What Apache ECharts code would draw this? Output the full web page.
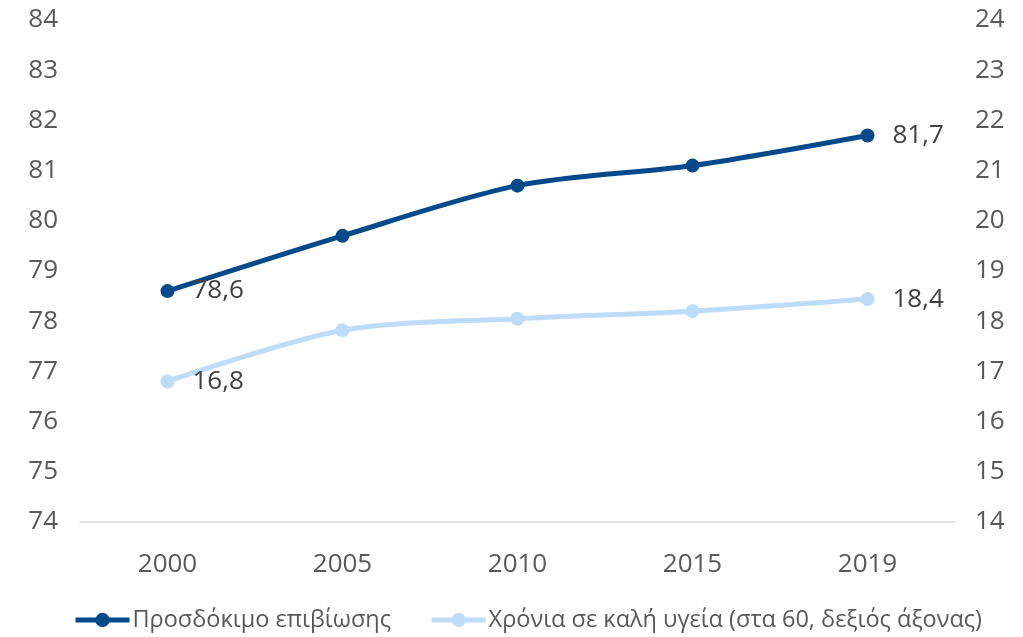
<!DOCTYPE html>
<html>
<head>
<meta charset="utf-8">
<script src="https://cdn.jsdelivr.net/npm/echarts@6/dist/echarts.min.js"></script>
<style>
  html, body { margin: 0; padding: 0; background: #fff; }
  #chart { width: 1023px; height: 637px; }
</style>
</head>
<body>
<div id="chart"></div>
<script>
var years = ['2000', '2005', '2010', '2015', '2019'];
var lifeExp = [78.6, 79.7, 80.7, 81.1, 81.7];
var healthyYears = [16.8, 17.82, 18.05, 18.2, 18.44];
var healthyLabels = ['16,8', '', '', '', '18,4'];
var lifeLabels = ['78,6', '', '', '', '81,7'];

var seriesNames = ['Προσδόκιμο επιβίωσης', 'Χρόνια σε καλή υγεία (στα 60, δεξιός άξονας)'];
var txt = '#595959';
var font = '"Open Sans", sans-serif';

// build data items, only first and last points carry a label
function withLabels(vals, labels) {
    return vals.map(function (v, i) {
        return {
            value: v,
            label: { show: labels[i] !== '', formatter: labels[i] }
        };
    });
}

var myChart = echarts.init(document.getElementById('chart'));
var option = {
    animation: false,
    textStyle: { fontFamily: font },
    grid: { left: 80, right: 68, top: 20, bottom: 115 },
    legend: {
        bottom: 0,
        left: 68,
        itemWidth: 54,
        itemHeight: 18,
        itemGap: 38,
        lineStyle: { width: 5 },
        textStyle: { color: txt, fontSize: 23.5, fontFamily: font, padding: [0, 0, 0, -2] },
        data: seriesNames
    },
    xAxis: {
        type: 'category',
        data: years,
        boundaryGap: true,
        axisLine: { lineStyle: { color: '#d9d9d9', width: 1.5 } },
        axisTick: { show: false },
        axisLabel: { color: txt, fontSize: 26, margin: 30 }
    },
    yAxis: [{
        type: 'value',
        min: 74, max: 84, interval: 1,
        splitLine: { show: false },
        axisLine: { show: false },
        axisLabel: { color: txt, fontSize: 26, margin: 22 }
    }, {
        type: 'value',
        min: 14, max: 24, interval: 1,
        splitLine: { show: false },
        axisLine: { show: false },
        axisLabel: { color: txt, fontSize: 26, margin: 20 }
    }],
    series: [{
        name: seriesNames[0],
        type: 'line',
        yAxisIndex: 0,
        smooth: 0.3,
        symbol: 'circle',
        symbolSize: 14,
        data: withLabels(lifeExp, lifeLabels),
        lineStyle: { color: '#044a8b', width: 5 },
        itemStyle: { color: '#044a8b' },
        label: { position: 'right', distance: 18, color: '#404040', fontSize: 26 }
    }, {
        name: seriesNames[1],
        type: 'line',
        yAxisIndex: 1,
        smooth: 0.3,
        symbol: 'circle',
        symbolSize: 14,
        data: withLabels(healthyYears, healthyLabels),
        lineStyle: { color: '#bcdcfa', width: 5 },
        itemStyle: { color: '#bcdcfa' },
        label: { position: 'right', distance: 18, color: '#404040', fontSize: 26 }
    }]
};
myChart.setOption(option);
</script>
</body>
</html>
